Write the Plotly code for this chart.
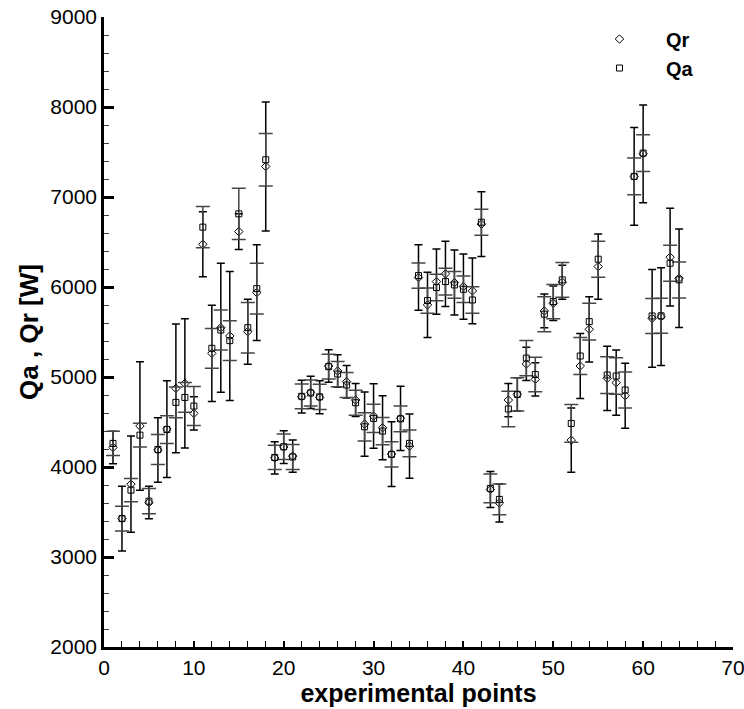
import plotly.graph_objects as go

points = list(range(1, 65))

qr = [4217, 3427, 3809, 4455, 3605, 4188, 4421, 4874, 4929, 4596,
      6475, 5263, 5548, 5456, 6616, 5504, 5938, 7339, 4101, 4221,
      4121, 4781, 4829, 4774, 5122, 5067, 4948, 4744, 4477, 4566,
      4436, 4143, 4540, 4232, 6105, 5801, 6060, 6146, 6049, 6005,
      5957, 6698, 3750, 3600, 4744, 4807, 5145, 4974, 5734, 5819,
      6053, 4299, 5122, 5530, 6227, 4985, 4937, 4792, 7228, 7480,
      5652, 5671, 6331, 6097]

qr_err = [180, 360, 535, 714, 180, 358, 538, 715, 717, 185,
          360, 534, 717, 717, 198, 361, 532, 717, 180, 183,
          180, 182, 180, 183, 181, 180, 180, 183, 357, 358,
          356, 360, 358, 357, 364, 362, 363, 362, 361, 363,
          365, 360, 200, 210, 185, 185, 185, 185, 187, 191,
          190, 357, 360, 362, 362, 358, 362, 362, 543, 543,
          543, 543, 543, 547]

qa = [4262, 3427, 3743, 4354, 3620, 4195, 4416, 4718, 4773, 4677,
      6665, 5319, 5522, 5404, 6813, 5548, 5982, 7414, 4106, 4225,
      4112, 4785, 4822, 4780, 5115, 5033, 4911, 4714, 4447, 4540,
      4399, 4140, 4535, 4262, 6127, 5849, 5994, 6060, 6023, 5975,
      5856, 6720, 3762, 3640, 4645, 4807, 5210, 5028, 5698, 5838,
      6079, 4484, 5233, 5615, 6309, 5022, 5011, 4855, 7228, 7488,
      5678, 5680, 6264, 6079]

qa_err = [134, 138, 128, 133, 140, 167, 154, 170, 165, 217,
          230, 221, 222, 222, 285, 280, 282, 291, 135, 141,
          139, 137, 145, 140, 137, 140, 140, 140, 157, 157,
          152, 140, 143, 148, 140, 140, 148, 148, 148, 148,
          148, 145, 160, 170, 198, 185, 195, 191, 195, 191,
          193, 210, 206, 204, 200, 204, 202, 200, 204, 204,
          195, 195, 200, 200]

FONT = "Arial, Liberation Sans, sans-serif"

fig = go.Figure()

fig.add_trace(go.Scatter(
    x=points, y=qr, mode="markers", name="Qr",
    marker=dict(symbol="diamond-open", size=6.5, color="black", line=dict(width=1, color="black")),
    error_y=dict(type="data", array=qr_err, visible=True, color="black", thickness=1.5, width=4),
))
fig.add_trace(go.Scatter(
    x=points, y=qa, mode="markers", name="Qa",
    marker=dict(symbol="square-open", size=6, color="black", line=dict(width=1, color="black")),
    error_y=dict(type="data", array=qa_err, visible=True, color="rgb(70,70,70)", thickness=1.5, width=7),
))

fig.update_layout(
    width=744, height=709,
    margin=dict(l=104, r=11, t=17, b=62),
    paper_bgcolor="white", plot_bgcolor="white",
    font=dict(family=FONT, size=21, color="black"),
    showlegend=True,
    legend=dict(x=0.7456, y=0.996, xanchor="left", yanchor="top",
                bgcolor="rgba(0,0,0,0)", itemwidth=83,
                font=dict(family=FONT, size=20, color="black", weight="bold")),
    xaxis=dict(range=[0, 70], dtick=10, tick0=0, showgrid=False, zeroline=False,
               automargin=False, ticklabeloverflow="allow",
               showline=True, linecolor="black", linewidth=2.5,
               ticks="inside", ticklen=6, tickwidth=1.5, tickcolor="black",
               minor=dict(dtick=2, ticks="inside", ticklen=6, tickwidth=1, tickcolor="black"),
               tickfont=dict(family=FONT, size=21),
               title=dict(text="<b>experimental points</b>", font=dict(family=FONT, size=25), standoff=6)),
    yaxis=dict(range=[2000, 9000], dtick=1000, showgrid=False, zeroline=False,
               automargin=False, ticklabeloverflow="allow",
               showline=True, linecolor="black", linewidth=2.5,
               ticks="inside", ticklen=10, tickwidth=3, tickcolor="black",
               minor=dict(dtick=200, ticks="inside", ticklen=5, tickwidth=1, tickcolor="rgb(60,60,60)"),
               tickfont=dict(family=FONT, size=21),
               title=dict(text="<b>Qa , Qr [W]</b>", font=dict(family=FONT, size=26), standoff=5)),
)

fig.write_html("out.html")
